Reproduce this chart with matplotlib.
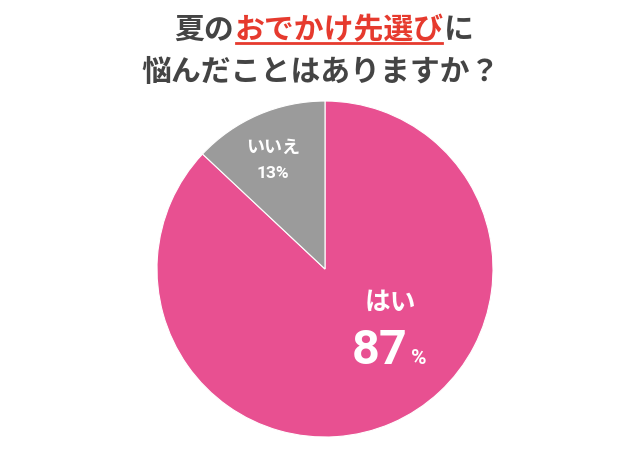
import matplotlib.pyplot as plt
from matplotlib.lines import Line2D

plt.rcParams['font.family'] = ['Noto Sans CJK JP', 'DejaVu Sans']

# データ
labels = ['はい', 'いいえ']
values = [87, 13]
colors = ['#E85091', '#9B9B9B']

title_pre = '夏の'
title_red = 'おでかけ先選び'
title_post = 'に'
title_line2 = '悩んだことはありますか？'

fig = plt.figure(figsize=(6.4, 4.6), dpi=100)
fig.patch.set_facecolor('white')

# 円グラフ
ax = fig.add_axes([0.2453, 0.0478, 0.525, 0.7304])
ax.pie(values, colors=colors, startangle=90, counterclock=False,
       wedgeprops=dict(edgecolor='white', linewidth=0.8))
ax.set_xlim(-1, 1)
ax.set_ylim(-1, 1)
ax.set_aspect('equal')

# ラベル
ax.text(0.387, -0.19, labels[0], ha='center', va='center',
        color='white', fontsize=18.5, fontweight='bold')
ax.text(0.49, -0.56, str(values[0]), ha='right', va='baseline',
        color='white', fontsize=35, fontweight='bold', family='Roboto')
ax.text(0.51, -0.56, '%', ha='left', va='baseline',
        color='white', fontsize=15, fontweight='bold', family='Roboto')
ax.text(-0.31, 0.73, labels[1], ha='center', va='center',
        color='white', fontsize=13, fontweight='bold')
ax.text(-0.31, 0.575, f'{values[1]}%', ha='center', va='center',
        color='white', fontsize=12.5, fontweight='bold', family='Roboto')

# タイトル（一部赤字＋下線）
fs = 21.5
dark = '#444444'
red = '#E63A2E'
kw = dict(fontsize=fs, fontweight='bold', va='center', ha='left')
y1 = 1 - 30 / 460
t1 = fig.text(0, y1, title_pre, color=dark, **kw)
t2 = fig.text(0, y1, title_red, color=red, **kw)
t3 = fig.text(0, y1, title_post, color=dark, **kw)
fig.canvas.draw()
r = fig.canvas.get_renderer()
ws = [t.get_window_extent(r).width for t in (t1, t2, t3)]
x = (640 - sum(ws)) / 2 + 4
for t, w in zip((t1, t2, t3), ws):
    t.set_x(x / 640)
    x += w
xr0 = (t2.get_position()[0])
xr1 = xr0 + ws[1] / 640
yu = 1 - 44 / 460
fig.add_artist(Line2D([xr0 + 2 / 640, xr1 - 2 / 640], [yu, yu],
                      color=red, linewidth=2, transform=fig.transFigure))

fig.text(0.5 + 1 / 640, 1 - 72 / 460, title_line2, color=dark,
         fontsize=fs, fontweight='bold', ha='center', va='center')

fig.savefig('out.png', dpi=100, facecolor='white')
